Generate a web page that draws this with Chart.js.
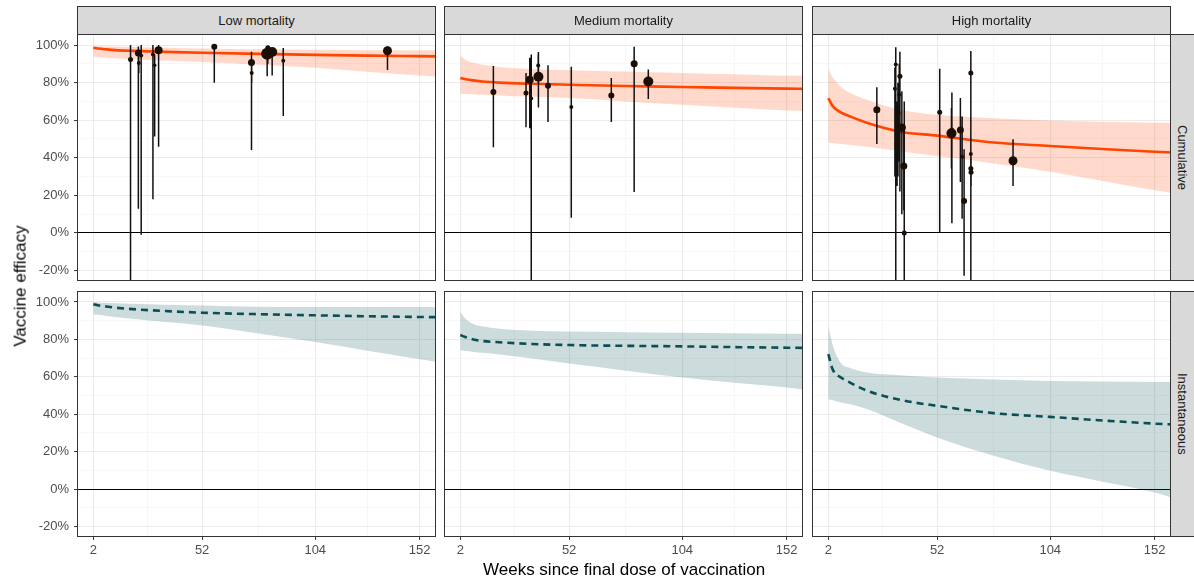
<!DOCTYPE html>
<html>
<head>
<meta charset="utf-8">
<script src="https://cdn.jsdelivr.net/npm/chart.js@4.4.0/dist/chart.umd.min.js"></script>
<style>
  body { margin: 0; background: #fff; font-family: "Liberation Sans", Arial, sans-serif; }
  #wrap { position: relative; width: 1194px; height: 582px; overflow: hidden; background: #fff; }
  .box { position: absolute; }
  .strip {
    position: absolute; background: #d9d9d9; border: 1px solid #333; box-sizing: border-box;
    color: #1a1a1a; font-size: 13px; display: flex; align-items: center; justify-content: center;
  }
  .vstrip span { writing-mode: vertical-rl; white-space: nowrap; }
  .title { position: absolute; color: #000; font-size: 17px; white-space: nowrap; }
</style>
</head>
<body>
<div id="wrap"></div>
<script>
// ---- data ----
const colLabels = ["Low mortality", "Medium mortality", "High mortality"];
const rowLabels = ["Cumulative", "Instantaneous"];

const xBreaks = [2, 52, 104, 152];
const xMinor = [27, 78, 128];
const yBreaks = [-20, 0, 20, 40, 60, 80, 100];
const yMinor = [-10, 10, 30, 50, 70, 90];

// fitted curves (weeks since final dose)
const weeks = [2, 4, 8, 12, 20, 35, 52, 78, 104, 128, 152, 160];

const lowCumFit   = [98.6, 98.2, 97.7, 97.3, 96.9, 96.4, 95.9, 95.3, 94.8, 94.4, 94.1, 94.0];
const lowCumUpper = [99.5, 99.4, 99.3, 99.2, 99.0, 98.6, 98.2, 97.8, 97.5, 97.3, 97.3, 97.2];
const lowCumLower = [93.6, 93.5, 93.2, 93.0, 92.5, 91.8, 91.0, 89.5, 87.9, 85.8, 83.8, 83.2];

const medCumFit   = [82.5, 81.9, 81.2, 80.6, 80.0, 79.4, 78.9, 78.2, 77.7, 77.2, 76.8, 76.7];
const medCumUpper = [94.5, 92.5, 90.6, 89.6, 88.3, 87.3, 86.6, 85.9, 85.2, 84.5, 83.8, 83.8];
const medCumLower = [74.1, 74.0, 73.8, 73.6, 73.2, 72.5, 71.8, 70.0, 68.2, 66.7, 65.2, 64.9];

const highCumFit   = [71.8, 67.5, 64.0, 62.0, 58.5, 53.9, 51.8, 48.1, 46.3, 44.7, 43.2, 42.8];
const highCumUpper = [87.3, 83.0, 77.5, 74.5, 70.8, 65.6, 62.9, 61.1, 59.8, 59.2, 58.7, 58.6];
const highCumLower = [48.1, 47.8, 47.3, 46.8, 45.9, 43.5, 40.9, 37.0, 32.5, 27.6, 22.7, 21.2];

const lowInsFit   = [98.8, 98.3, 97.6, 97.0, 96.2, 95.2, 94.3, 93.5, 92.9, 92.4, 92.0, 91.9];
const lowInsUpper = [100.0, 99.8, 99.6, 99.4, 99.1, 98.6, 98.1, 97.5, 97.4, 97.3, 97.3, 97.3];
const lowInsLower = [93.4, 93.2, 92.6, 92.0, 91.0, 89.3, 87.5, 83.2, 78.6, 74.0, 69.4, 68.0];

const medInsFit   = [82.4, 81.4, 80.0, 79.2, 78.5, 77.6, 77.0, 76.6, 76.3, 75.9, 75.6, 75.5];
const medInsUpper = [94.8, 91.5, 88.3, 87.0, 85.7, 84.7, 84.2, 83.9, 83.6, 83.3, 83.1, 83.1];
const medInsLower = [74.2, 73.9, 73.3, 72.9, 72.0, 69.8, 67.1, 63.3, 59.6, 56.8, 54.3, 53.2];

const highInsFit   = [72.1, 64.0, 59.5, 56.9, 52.5, 47.7, 44.5, 40.6, 38.6, 36.7, 35.0, 34.6];
const highInsUpper = [87.2, 77.0, 67.0, 64.8, 62.3, 60.8, 59.6, 58.6, 57.8, 57.5, 57.3, 57.3];
const highInsLower = [48.1, 47.5, 46.3, 45.3, 42.7, 35.5, 27.6, 17.8, 9.8, 4.0, -1.8, -4.6];

// study estimates (cumulative row only)
const lowWeeks = [19.1, 22.7, 22.9, 24.0, 29.4, 30.2, 32.0, 57.6, 74.7, 74.8, 81.9, 82.2, 84.2, 89.3, 137.2];
const lowEst   = [92.3, 95.8, 90.5, 94.5, 95.0, 89.3, 97.3, 99.1, 90.7, 85.2, 95.4, 98.6, 96.3, 91.6, 97.0];
const lowLo    = [-40, 12.9, 85, -1, 17.9, 51.3, 45.9, 80, 44.1, 80, 83.4, 90, 83.8, 62.2, 86.8];
const lowHi    = [100, 99.3, 95, 100, 100, 95, 100, 99.8, 96.4, 90, 98, 99.5, 98.5, 98.4, 99.2];
const lowSize  = [2.5, 3.5, 2, 2, 2, 1.8, 4, 3, 3.5, 2, 6, 2.5, 5, 2, 4.5];

const medWeeks = [17.2, 32.2, 33.9, 34.6, 37.9, 37.8, 42.3, 53.0, 71.4, 81.9, 88.4];
const medEst   = [75.0, 74.5, 81.6, 71.6, 83.1, 89.1, 78.4, 67.0, 73.1, 90.0, 80.6];
const medLo    = [45.6, 56.3, 55.7, -40, 66.8, 80, 59.0, 8.1, 59.0, 21.8, 71.3];
const medHi    = [88.8, 85.2, 93.2, 95.0, 96.3, 95, 89.3, 88.4, 82.5, 99.1, 87.0];
const medSize  = [3, 2.5, 4, 2, 5, 2, 3, 2, 3, 3.5, 5];

const highWeeks = [24.3, 33.0, 32.6, 34.9, 34.6, 34.0, 35.8, 33.6, 36.7, 36.9, 53.2, 58.6, 58.8, 62.7, 63.5, 64.4, 67.5, 67.5, 67.5, 67.6, 86.9];
const highEst   = [65.6, 89.7, 76.8, 83.4, 73.6, 63.8, 56.1, 47.7, 35.6, 0.0, 64.3, 53.0, 55.0, 54.8, 40.5, 17.0, 85.2, 42.0, 34.3, 32.3, 38.4];
const highLo    = [47.3, -40, 30, 22, 38, 30, 10, 25, 12, -40, 0.0, 34.3, 5.2, 27.1, 7.5, -22.8, -40, 30, 25, 25, 25.0];
const highHi    = [77.5, 98.9, 88, 96.4, 90, 80, 75.4, 70, 56, 70, 87.4, 66.5, 74.8, 71.8, 62.0, 44.5, 96.8, 55, 45, 40, 49.9];
const highSize  = [3.5, 2, 2, 2.5, 2, 2.5, 4, 2.5, 3.5, 2.5, 2.5, 5, 2, 3.5, 2, 3, 2.5, 2, 2.5, 2.5, 4.5];

// ---- layout ----
const COL_LEFT = [77, 444, 812];
const PANEL_W = 359;
const ROW_TOP = [34, 291];
const PANEL_H = [247, 246];
const Y_AXIS_W = 47;
const X_AXIS_H = 30;
const X_MIN = -5.5, X_MAX = 159.5;
const Y_MIN = -25.6, Y_MAX = 105.9;
const FONT = "'Liberation Sans', Arial, sans-serif";

const wrap = document.getElementById("wrap");

// ggplot-style panel frame
const panelBorder = {
  id: "panelBorder",
  afterDraw(chart) {
    const { ctx, chartArea: a } = chart;
    ctx.save();
    ctx.strokeStyle = "#333";
    ctx.lineWidth = 1;
    ctx.strokeRect(a.left + 0.5, a.top + 0.5, a.right - a.left - 1, a.bottom - a.top - 1);
    ctx.restore();
  },
};

const panels = [
  { row: 0, col: 0, fit: lowCumFit, upper: lowCumUpper, lower: lowCumLower,
    pts: { w: lowWeeks, est: lowEst, lo: lowLo, hi: lowHi, r: lowSize } },
  { row: 0, col: 1, fit: medCumFit, upper: medCumUpper, lower: medCumLower,
    pts: { w: medWeeks, est: medEst, lo: medLo, hi: medHi, r: medSize } },
  { row: 0, col: 2, fit: highCumFit, upper: highCumUpper, lower: highCumLower,
    pts: { w: highWeeks, est: highEst, lo: highLo, hi: highHi, r: highSize } },
  { row: 1, col: 0, fit: lowInsFit, upper: lowInsUpper, lower: lowInsLower },
  { row: 1, col: 1, fit: medInsFit, upper: medInsUpper, lower: medInsLower },
  { row: 1, col: 2, fit: highInsFit, upper: highInsUpper, lower: highInsLower },
];

function makePanel(p) {
  const yw = p.col === 0 ? Y_AXIS_W : 0;
  const xh = p.row === 1 ? X_AXIS_H : 0;
  const w = PANEL_W + yw;
  const h = PANEL_H[p.row] + xh;

  const box = document.createElement("div");
  box.className = "box";
  box.style.left = COL_LEFT[p.col] - yw + "px";
  box.style.top = ROW_TOP[p.row] + "px";
  box.style.width = w + "px";
  box.style.height = h + "px";
  const cv = document.createElement("canvas");
  cv.width = w;
  cv.height = h;
  cv.style.width = w + "px";
  cv.style.height = h + "px";
  box.appendChild(cv);
  wrap.appendChild(box);

  const cumulative = p.row === 0;
  const lineColor = cumulative ? "#ff4500" : "#0b4f55";
  const ribbonColor = cumulative ? "rgba(255, 69, 0, 0.2)" : "rgba(0, 79, 84, 0.2)";

  const datasets = [];
  if (p.pts) {
    datasets.push({
      type: "scatter",
      data: p.pts.w.map((x, i) => ({ x: x, y: p.pts.est[i] })),
      pointRadius: p.pts.r,
      backgroundColor: "#1c0d05",
      borderWidth: 0,
      clip: 0,
    });
    // error bars: one segment per study, broken by a null
    const bars = [];
    p.pts.w.forEach((x, i) => {
      bars.push({ x: x, y: p.pts.lo[i] }, { x: x, y: p.pts.hi[i] }, { x: x, y: null });
    });
    datasets.push({
      type: "line",
      data: bars,
      borderColor: "#111",
      borderWidth: 1.5,
      pointRadius: 0,
      spanGaps: false,
      fill: false,
      clip: 0,
    });
  }
  datasets.push({
    type: "line",
    data: weeks.map((x, i) => ({ x: x, y: p.fit[i] })),
    borderColor: lineColor,
    borderWidth: 2.6,
    borderDash: cumulative ? [] : [7, 5],
    borderCapStyle: "butt",
    pointRadius: 0,
    cubicInterpolationMode: "monotone",
    fill: false,
    clip: 0,
  });
  datasets.push({
    type: "line",
    data: weeks.map((x, i) => ({ x: x, y: p.upper[i] })),
    borderWidth: 0,
    borderColor: "rgba(0,0,0,0)",
    pointRadius: 0,
    cubicInterpolationMode: "monotone",
    fill: "+1",
    backgroundColor: ribbonColor,
    clip: 0,
  });
  datasets.push({
    type: "line",
    data: weeks.map((x, i) => ({ x: x, y: p.lower[i] })),
    borderWidth: 0,
    borderColor: "rgba(0,0,0,0)",
    pointRadius: 0,
    cubicInterpolationMode: "monotone",
    fill: false,
    clip: 0,
  });

  const xMajor = (v) => xBreaks.includes(v);
  const yMajor = (v) => yBreaks.includes(v);

  new Chart(cv, {
    type: "line",
    data: { datasets: datasets },
    options: {
      responsive: false,
      animation: false,
      events: [],
      layout: { padding: 0, autoPadding: false },
      plugins: { legend: { display: false }, tooltip: { enabled: false } },
      scales: {
        x: {
          type: "linear",
          min: X_MIN,
          max: X_MAX,
          afterBuildTicks: (s) => {
            s.ticks = xBreaks.concat(xMinor).sort((a, b) => a - b).map((v) => ({ value: v }));
          },
          afterFit: (s) => {
            s.height = xh;
            s.paddingLeft = 0;
            s.paddingRight = 0;
          },
          border: { display: false },
          grid: {
            color: (c) => (xMajor(c.tick.value) ? "#ebebeb" : "#f2f2f2"),
            lineWidth: (c) => (xMajor(c.tick.value) ? 1.1 : 0.6),
            drawTicks: p.row === 1,
            tickLength: 3,
            tickColor: (c) => (xMajor(c.tick.value) ? "#333" : "rgba(0,0,0,0)"),
            tickWidth: 1,
          },
          ticks: {
            display: p.row === 1,
            autoSkip: false,
            maxRotation: 0,
            padding: 3,
            color: "#4d4d4d",
            font: { size: 13, family: FONT },
            callback: (v) => (xMajor(v) ? String(v) : ""),
          },
        },
        y: {
          type: "linear",
          min: Y_MIN,
          max: Y_MAX,
          afterBuildTicks: (s) => {
            s.ticks = yBreaks.concat(yMinor).sort((a, b) => a - b).map((v) => ({ value: v }));
          },
          afterFit: (s) => {
            s.width = yw;
            s.paddingTop = 0;
            s.paddingBottom = 0;
          },
          border: { display: false },
          grid: {
            color: (c) => (c.tick.value === 0 ? "#000" : yMajor(c.tick.value) ? "#ebebeb" : "#f2f2f2"),
            lineWidth: (c) => (yMajor(c.tick.value) ? 1.1 : 0.6),
            drawTicks: p.col === 0,
            tickLength: 3,
            tickColor: (c) => (yMajor(c.tick.value) ? "#333" : "rgba(0,0,0,0)"),
            tickWidth: 1,
          },
          ticks: {
            display: p.col === 0,
            autoSkip: false,
            padding: 5,
            color: "#4d4d4d",
            font: { size: 13, family: FONT },
            callback: (v) => (yMajor(v) ? v + "%" : ""),
          },
        },
      },
    },
    plugins: [panelBorder],
  });
}

panels.forEach(makePanel);

// facet strips
colLabels.forEach((label, c) => {
  const s = document.createElement("div");
  s.className = "strip";
  s.style.left = COL_LEFT[c] + "px";
  s.style.top = "6px";
  s.style.width = PANEL_W + "px";
  s.style.height = "29px";
  s.textContent = label;
  wrap.appendChild(s);
});
rowLabels.forEach((label, r) => {
  const s = document.createElement("div");
  s.className = "strip vstrip";
  s.style.left = COL_LEFT[2] + PANEL_W - 1 + "px";
  s.style.top = ROW_TOP[r] + "px";
  s.style.width = "25px";
  s.style.height = PANEL_H[r] + "px";
  const sp = document.createElement("span");
  sp.textContent = label;
  s.appendChild(sp);
  wrap.appendChild(s);
});

// axis titles
const xt = document.createElement("div");
xt.className = "title";
xt.textContent = "Weeks since final dose of vaccination";
wrap.appendChild(xt);
xt.style.left = (COL_LEFT[0] + COL_LEFT[2] + PANEL_W) / 2 - xt.offsetWidth / 2 + "px";
xt.style.top = 570 - xt.offsetHeight / 2 + "px";

const yt = document.createElement("div");
yt.className = "title";
yt.textContent = "Vaccine efficacy";
wrap.appendChild(yt);
yt.style.left = 20 - yt.offsetWidth / 2 + "px";
yt.style.top = 286 - yt.offsetHeight / 2 + "px";
yt.style.transform = "rotate(-90deg)";
</script>
</body>
</html>
